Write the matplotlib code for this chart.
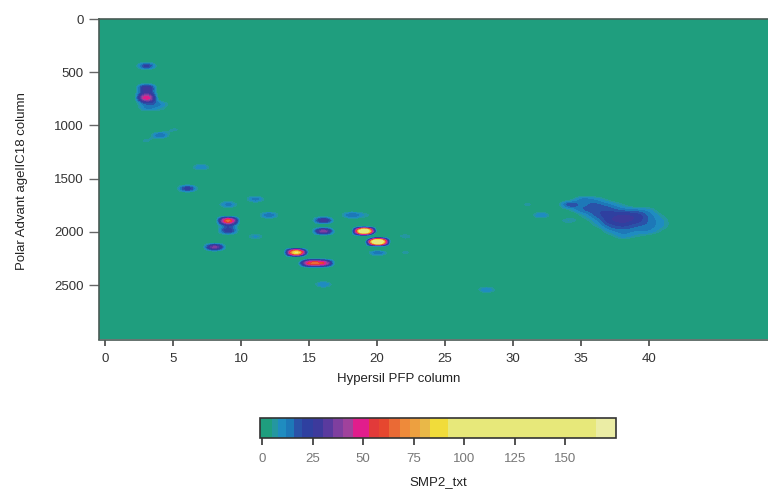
"""GC x GC style contour map of SMP2_txt, saved to out.png."""
import matplotlib
matplotlib.use("Agg")
import matplotlib.pyplot as plt
import numpy as np
from matplotlib.colors import BoundaryNorm, ListedColormap

plt.rcParams["font.family"] = ["Liberation Sans", "DejaVu Sans"]

# grid of the two column axes
columns = np.arange(0, 50)
rows = np.arange(0, 3050, 50)

# separate spots: column, retention row, signal
spot_x = [3, 3, 3, 3, 3, 3, 4, 4, 3, 4, 5, 7, 6, 9, 11, 12, 9, 9, 9, 8, 16, 16, 18, 19,
          19, 20, 14, 15, 16, 20, 16, 28, 11, 12, 22, 22, 24, 31, 32]
spot_y = [450, 650, 700, 750, 800, 850, 800, 850, 1150, 1100, 1050, 1400, 1600, 1750,
          1700, 1850, 1900, 1950, 2000, 2150, 1900, 2000, 1850, 1850,
          2000, 2100, 2200, 2300, 2300, 2200, 2500, 2550, 2050, 2150, 2050, 2200, 2300, 1750, 1850]
spot_z = [22, 28, 30, 52, 20, 12, 12, 8, 6, 16, 6, 12, 24, 14, 14, 16,
          66, 22, 24, 38, 30, 40, 16, 8,
          130, 140, 95, 62, 56, 16, 12, 12, 9, 5, 7, 6, 4, 6, 12]

# the broad ridge near the right side
ridge_x = [34, 35, 36, 37, 38, 39, 40, 41]
ridge_y = [1700, 1750, 1800, 1850, 1900, 1950, 2000, 2050]
ridge_z = [
    [3, 13, 11, 4, 0, 0, 0, 0],
    [18, 15, 17, 13, 6, 0, 0, 0],
    [6, 15, 19, 19, 15, 13, 9, 0],
    [0, 7, 17, 23, 25, 23, 14, 5],
    [8, 3, 11, 23, 27, 23, 15, 8],
    [0, 0, 6, 17, 21, 17, 14, 8],
    [0, 0, 0, 10, 14, 12, 11, 4],
    [0, 0, 0, 3, 10, 6, 3, 0],
]

x_ticks = [0, 5, 10, 15, 20, 25, 30, 35, 40]
y_ticks = [0, 500, 1000, 1500, 2000, 2500]
bar_ticks = [0, 25, 50, 75, 100, 125, 150]

band_edges = [-1, 5, 8, 12, 16, 20, 25, 30, 35, 40, 45, 53, 58, 63, 68, 73, 78, 83,
              92, 165, 175]
band_colors = ["#1f9e7e", "#2497a0", "#1f8cc0", "#1d78b8", "#2a52a8", "#2f40a0",
               "#3d3a9c", "#5a3a9e", "#7f3f9f", "#a0429c", "#e11d8c", "#e23a3a",
               "#e6472f", "#ea6a35", "#ee8a3a", "#eda040", "#e9b848", "#f1dc3a",
               "#e7e87a", "#ebeda5"]


def main():
    grid = np.zeros((len(rows), len(columns)))
    for x, y, z in zip(spot_x, spot_y, spot_z):
        grid[y // 50, x] = z
    for i, y in enumerate(ridge_y):
        for j, x in enumerate(ridge_x):
            grid[y // 50, x] = ridge_z[i][j]

    cmap = ListedColormap(band_colors)
    norm = BoundaryNorm(band_edges, cmap.N, clip=True)

    fig = plt.figure(figsize=(7.68, 4.9), dpi=100)
    ax = fig.add_axes([98.5 / 768, 1 - 339.5 / 490, 1 - 98.5 / 768, 320.5 / 490])
    # catrom passes through the cell values, agg's bicubic would flatten the peaks
    im = ax.imshow(grid, cmap=cmap, norm=norm, aspect="auto", origin="upper",
                   interpolation="catrom", interpolation_stage="data",
                   extent=(-0.5, 49.5, 3025, -25))
    ax.set_xlim(-0.5, 48.75)
    ax.set_ylim(3012, 0)
    ax.set_xticks(x_ticks)
    ax.set_yticks(y_ticks)
    ax.tick_params(axis="x", length=4.5, width=1.2, labelsize=9.5, labelcolor="#333333",
                   pad=5, color="#444444")
    ax.tick_params(axis="y", length=7.5, width=1, labelsize=9.5, labelcolor="#333333",
                   pad=3, color="#666666")
    ax.set_xlabel("Hypersil PFP column", fontsize=9.5, color="#222222", labelpad=6,
                  x=(399 - 98.5) / (768 - 98.5))
    ax.set_ylabel("Polar Advant agelIC18 column", fontsize=9.5, color="#222222",
                  labelpad=19, y=(339.5 - 181) / 320.5)
    for spine in ax.spines.values():
        spine.set_color("#4a5a55")
        spine.set_linewidth(1.2)
    ax.spines["right"].set_visible(False)

    cax = fig.add_axes([260 / 768, 1 - 438 / 490, 356 / 768, 20 / 490])
    bar = fig.colorbar(im, cax=cax, orientation="horizontal", spacing="proportional",
                       ticks=bar_ticks, drawedges=False)
    bar.outline.set_edgecolor("#333333")
    bar.outline.set_linewidth(1.2)
    cax.minorticks_off()
    cax.tick_params(length=5, width=1.2, color="#333333", labelsize=9.5,
                    labelcolor="#777777", pad=6)
    bar.set_label("SMP2_txt", fontsize=9.5, color="#222222", labelpad=8)

    fig.savefig("out.png", dpi=100)


if __name__ == "__main__":
    main()
